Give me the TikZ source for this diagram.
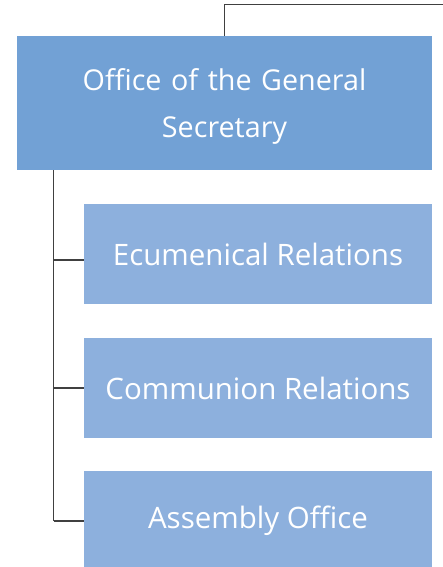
\documentclass[tikz,border=0pt]{standalone}
\usepackage{fontspec}
\setmainfont{Open Sans}
\usetikzlibrary{positioning}
\definecolor{headblue}{RGB}{114,161,213}
\definecolor{unitblue}{RGB}{141,176,221}
\definecolor{linegray}{RGB}{64,64,64}
\tikzset{
    %Define style for the head office box
    headbox/.style={
           rectangle,
           fill=headblue,
           text=white,
           minimum width=415pt,
           minimum height=134pt,
           text width=400pt,
           text depth=46pt,
           align=center,
           font=\fontsize{28.7}{47}\selectfont},
    %Define style for the unit boxes
    unitbox/.style={
           rectangle,
           fill=unitblue,
           text=white,
           minimum width=348pt,
           minimum height=100pt,
           align=center,
           font=\fontsize{29.5}{32}\selectfont},
    % Define connector style
    link/.style={
           draw=linegray,
           line width=1.4pt}
}
\begin{document}
\begin{tikzpicture}[x=1pt,y=-1pt]
\useasboundingbox (0,0) rectangle (443,567);

%head office
\node[headbox] (office) at (224.5,103) {Office of the General\\Secretary};

%units below the head office
\node[unitbox] (ecumenical) at (258,254) {Ecumenical Relations};
\node[unitbox] (communion) at (258,388) {Communion Relations};
\node[unitbox] (assembly) at (258,520.5) {Assembly Office};

%line up to the parent
\coordinate (parent) at (443,4.5);
\draw[link] (office.north) |- (parent);

%trunk and branches
\coordinate (trunk) at (53.5,170);
\coordinate (branch1) at (53.5,260);
\coordinate (branch2) at (53.5,388);
\coordinate (branch3) at (53.5,521);
\draw[link] (trunk) -- (branch3);
\draw[link] (branch1) -- (branch1 -| ecumenical.west);
\draw[link] (branch2) -- (branch2 -| communion.west);
\draw[link] (branch3) -- (branch3 -| assembly.west);

\end{tikzpicture}
\end{document}
